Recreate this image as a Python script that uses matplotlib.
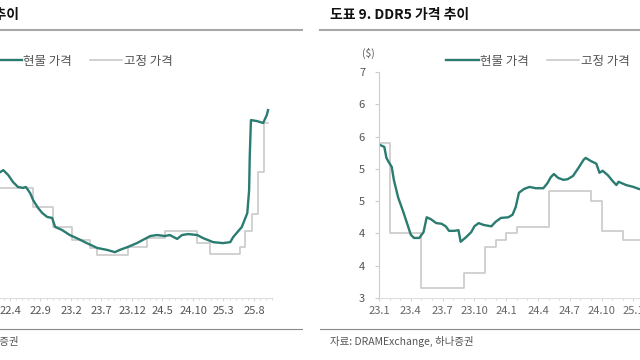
import matplotlib.pyplot as plt
from matplotlib.lines import Line2D
from matplotlib.ticker import MultipleLocator, FuncFormatter, FixedLocator

plt.rcParams['font.family'] = ['Noto Sans CJK KR', 'DejaVu Sans']

GREEN = '#2a7b70'
GRAY = '#c9c9c9'

# --- DDR4 panel (left, cut off by the crop) ---
# x = months since 2022.1
ddr4_spot_t = [1.4, 1.9, 2.7, 3.5, 4.3, 5.1, 5.6, 6.3, 6.8, 7.6, 8.3, 9.1, 9.9, 10.4,
               11.5, 12.8, 14.2, 15.6, 17.3, 18.9, 20.2, 21.0, 22.3, 23.8, 24.8, 26.0,
               27.1, 28.4, 29.2, 30.4, 31.2, 32.2, 33.7, 34.6, 36.3, 37.9, 39.1, 39.6,
               41.0, 41.9, 42.2, 42.3, 42.5, 43.5, 44.5, 45.1, 45.3]
ddr4_spot_v = [3.90, 3.96, 3.81, 3.59, 3.44, 3.41, 3.44, 3.25, 3.03, 2.79, 2.63, 2.51, 2.48, 2.20,
               2.11, 1.95, 1.83, 1.70, 1.55, 1.49, 1.42, 1.49, 1.58, 1.70, 1.80, 1.92,
               1.95, 1.92, 1.95, 1.83, 1.95, 1.98, 1.95, 1.86, 1.73, 1.70, 1.73, 1.89,
               2.20, 2.63, 3.34, 4.37, 5.51, 5.48, 5.42, 5.67, 5.82]
ddr4_fixed_t = [1.4, 6.8, 10.1, 13.2, 16.1, 17.3, 22.3, 25.5, 28.4, 33.7, 35.8,
                40.7, 41.5, 42.7, 43.7, 44.6, 45.3]
ddr4_fixed_v = [3.41, 2.82, 2.20, 1.80, 1.55, 1.33, 1.58, 1.86, 2.07, 1.70, 1.36,
                1.58, 2.07, 2.60, 3.90, 5.42, 5.42]
ddr4_ticks = [3, 8, 13, 18, 23, 28, 33, 38, 43]
ddr4_labels = ['22.4', '22.9', '23.2', '23.7', '23.12', '24.5', '24.10', '25.3', '25.8']

# --- DDR5 panel (right) ---
# x = months since 2023.1
ddr5_spot_t = [0.1, 0.5, 0.7, 0.9, 1.2, 1.4, 1.8, 2.3, 2.7, 3.0, 3.3, 3.8, 4.2, 4.5,
               4.9, 5.4, 5.9, 6.3, 6.6, 7.1, 7.5, 7.7, 8.2, 8.7, 9.0, 9.4, 9.9, 10.6,
               11.0, 11.5, 12.2, 12.6, 12.9, 13.2, 13.7, 14.2, 14.8, 15.5, 15.9, 16.2,
               16.5, 16.9, 17.4, 17.8, 18.3, 18.8, 19.3, 19.5, 20.0, 20.5, 20.8, 21.1,
               21.6, 22.1, 22.4, 22.6, 23.3, 24.0, 24.5, 25.2]
ddr5_spot_v = [5.87, 5.84, 5.67, 5.61, 5.53, 5.33, 5.06, 4.83, 4.63, 4.48, 4.43, 4.43, 4.52, 4.75,
               4.72, 4.66, 4.65, 4.61, 4.54, 4.54, 4.55, 4.37, 4.44, 4.52, 4.61, 4.66, 4.63, 4.61,
               4.68, 4.74, 4.75, 4.79, 4.91, 5.13, 5.19, 5.22, 5.20, 5.20, 5.28, 5.37,
               5.42, 5.36, 5.33, 5.34, 5.39, 5.51, 5.64, 5.67, 5.62, 5.58, 5.44, 5.47,
               5.40, 5.30, 5.25, 5.30, 5.25, 5.22, 5.19, 5.16]
ddr5_fixed_t = [0, 1, 4, 8, 10, 11, 12, 13, 16, 20, 21, 23, 27]
ddr5_fixed_v = [5.90, 4.51, 3.65, 3.89, 4.29, 4.40, 4.51, 4.60, 5.16, 5.00, 4.54, 4.40, 4.40]
ddr5_ticks = [0, 3, 6, 9, 12, 15, 18, 21, 24]
ddr5_labels = ['23.1', '23.4', '23.7', '23.10', '24.1', '24.4', '24.7', '24.10', '25.1']

legend_labels = ['현물 가격', '고정 가격']
W, H = 640, 360


def fx(px):
    return px / W


def fy(py):
    return 1 - py / H


fig = plt.figure(figsize=(6.4, 3.6), dpi=100)

# left axes: 22.1 sits at x=-8 px, 6.1 px per month
axL = fig.add_axes([fx(-8.3), fy(298), fx(46 * 6.1), fy(72) - fy(298)])
axL.plot(ddr4_fixed_t, ddr4_fixed_v, color=GRAY, lw=1.2, drawstyle='steps-post', label=legend_labels[1])
axL.plot(ddr4_spot_t, ddr4_spot_v, color=GREEN, lw=1.7, label=legend_labels[0])
axL.set_xlim(0, 46)
axL.set_ylim(0, 7)
axL.set_yticks([])
axL.xaxis.set_major_locator(FixedLocator(ddr4_ticks))
axL.set_xticklabels(ddr4_labels)
axL.xaxis.set_minor_locator(MultipleLocator(1))
axL.tick_params(axis='x', which='major', length=2, pad=4, labelsize=8, labelcolor='#555555', color='#d5d5d5')
axL.tick_params(axis='x', which='minor', length=1.5, color='#d5d5d5')
for s in ['top', 'right', 'left']:
    axL.spines[s].set_visible(False)
axL.spines['bottom'].set_color('#dddddd')
axL.spines['bottom'].set_linewidth(0.8)
h, l = axL.get_legend_handles_labels()
axL.legend(h[::-1], l[::-1], loc='center left', bbox_to_anchor=(fx(-11), fy(61)),
           bbox_transform=fig.transFigure, ncol=2, frameon=False, fontsize=9,
           handlelength=2.6, handletextpad=0.15, columnspacing=1.4, borderpad=0,
           borderaxespad=0, labelcolor='#555555')

# right axes: 23.1 at x=379, 10.6 px per month
axR = fig.add_axes([fx(379), fy(298), fx(31 * 10.6), fy(72) - fy(298)])
axR.plot(ddr5_fixed_t, ddr5_fixed_v, color=GRAY, lw=1.2, drawstyle='steps-post', label=legend_labels[1])
axR.plot(ddr5_spot_t, ddr5_spot_v, color=GREEN, lw=1.7, label=legend_labels[0])
axR.set_xlim(0, 31)
axR.set_ylim(3.5, 7)
axR.yaxis.set_major_locator(MultipleLocator(0.5))
axR.yaxis.set_major_formatter(FuncFormatter(lambda v, p: f"{int(v)}"))
axR.xaxis.set_major_locator(FixedLocator(ddr5_ticks))
axR.set_xticklabels(ddr5_labels)
axR.xaxis.set_minor_locator(MultipleLocator(1))
axR.tick_params(axis='x', which='major', length=2, pad=4, labelsize=8, labelcolor='#666666', color='#d5d5d5')
axR.tick_params(axis='x', which='minor', length=1.5, color='#d5d5d5')
axR.tick_params(axis='y', length=3, pad=7, labelsize=8, labelcolor='#555555', color='#cccccc')
for s in ['top', 'right']:
    axR.spines[s].set_visible(False)
axR.spines['left'].set_color('#cccccc')
axR.spines['left'].set_linewidth(0.8)
axR.spines['bottom'].set_color('#dddddd')
axR.spines['bottom'].set_linewidth(0.8)
h, l = axR.get_legend_handles_labels()
axR.legend(h[::-1], l[::-1], loc='center left', bbox_to_anchor=(fx(446), fy(61)),
           bbox_transform=fig.transFigure, ncol=2, frameon=False, fontsize=9,
           handlelength=2.6, handletextpad=0.15, columnspacing=1.4, borderpad=0,
           borderaxespad=0, labelcolor='#555555')
fig.text(fx(368), fy(53), '($)', ha='center', va='center', fontsize=7.5, color='#555555')

# titles, rules and source lines
fig.text(fx(19), fy(15), '도표 8. DDR4 가격 추이', ha='right', va='center', fontsize=10,
         fontweight='bold', color='#111111')
fig.text(fx(330), fy(15), '도표 9. DDR5 가격 추이', ha='left', va='center', fontsize=10,
         fontweight='bold', color='#111111')
for x0, x1 in [(0, 302), (320, 640)]:
    fig.add_artist(Line2D([fx(x0), fx(x1)], [fy(29.5), fy(29.5)], color='#a8a8a8', lw=1.5,
                          transform=fig.transFigure))
    fig.add_artist(Line2D([fx(x0), fx(x1)], [fy(329), fy(329)], color='#8a8a8a', lw=0.8,
                          transform=fig.transFigure))
fig.text(fx(19), fy(341), '자료: DRAMExchange, 하나증권', ha='right', va='center', fontsize=7.5,
         color='#555555')
fig.text(fx(330), fy(341), '자료: DRAMExchange, 하나증권', ha='left', va='center', fontsize=7.5,
         color='#555555')

fig.savefig('out.png', dpi=100, facecolor='white')
